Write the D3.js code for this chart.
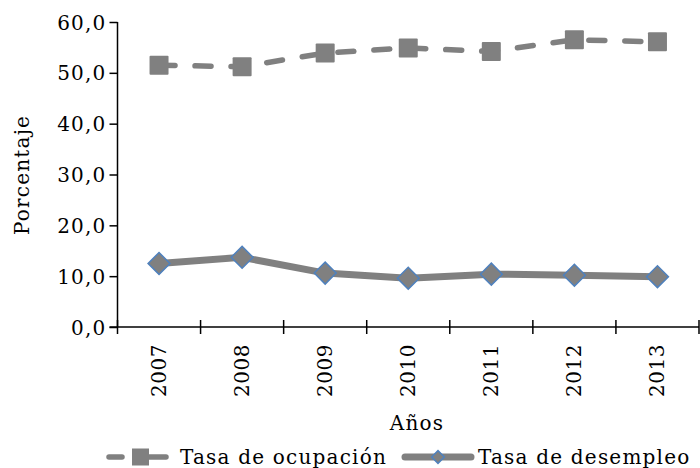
<!DOCTYPE html>
<html>
<head>
<meta charset="utf-8">
<script src="https://cdn.jsdelivr.net/npm/d3@7"></script>
<style>
  body { margin: 0; background: #fff; }
  text { font-family: "DejaVu Serif", serif; fill: #000; font-size: 20px; letter-spacing: 1.2px; }
</style>
</head>
<body>
<svg id="chart" width="700" height="468"></svg>
<script>
var years = ["2007", "2008", "2009", "2010", "2011", "2012", "2013"];
var ocupacion = [51.5, 51.2, 53.9, 54.9, 54.2, 56.5, 56.1];
var desempleo = [12.5, 13.7, 10.6, 9.6, 10.4, 10.2, 9.9];
var yTicks = [0, 10, 20, 30, 40, 50, 60];

var svg = d3.select('#chart');
var plotLeft = 117.5, plotRight = 699, plotTop = 22, plotBottom = 327;

var x = d3.scaleBand().domain(years).range([plotLeft, plotRight]);
var y = d3.scaleLinear().domain([0, 60]).range([plotBottom, plotTop]);
var fmt = function(d){ return d3.format('.1f')(d).replace('.', ','); };

// y axis
var yAxis = svg.append('g').attr('transform', 'translate(' + plotLeft + ',0)')
  .call(d3.axisLeft(y).tickValues(yTicks).tickSize(8).tickFormat(fmt));
yAxis.select('.domain').attr('d', 'M0,' + plotTop + 'V' + plotBottom).attr('stroke-width', 1.5);
yAxis.selectAll('.tick line').attr('x1', -8).attr('x2', 0).attr('stroke-width', 1.5);
yAxis.selectAll('.tick text').attr('x', -11).attr('dy', '0.35em');
yAxis.attr('font-size', null).attr('font-family', null);

// x axis with ticks between categories
var xg = svg.append('g');
xg.append('line').attr('x1', plotLeft - 8).attr('x2', plotRight).attr('y1', plotBottom).attr('y2', plotBottom)
  .attr('stroke', '#000').attr('stroke-width', 1.5);
var edges = years.map(function(d){ return x(d); }).concat([plotRight]);
xg.selectAll('.xt').data(edges).enter().append('line')
  .attr('x1', function(d){ return d; }).attr('x2', function(d){ return d; })
  .attr('y1', plotBottom - 7).attr('y2', plotBottom + 7)
  .attr('stroke', '#000').attr('stroke-width', 1.5);
xg.selectAll('.xl').data(years).enter().append('text')
  .attr('transform', function(d){ return 'translate(' + (x(d) + x.bandwidth() / 2 + 7) + ',344)rotate(-90)'; })
  .attr('text-anchor', 'end')
  .style('letter-spacing', '0.5px')
  .text(function(d){ return d; });

// axis titles
svg.append('text').attr('x', 417).attr('y', 430).attr('text-anchor', 'middle').text('Años');
svg.append('text').attr('transform', 'translate(29,175)rotate(-90)').attr('text-anchor', 'middle')
  .text('Porcentaje');

var cx = function(d, i){ return x(years[i]) + x.bandwidth() / 2; };
var line = d3.line().x(cx).y(function(d){ return y(d); });

// Tasa de ocupación
svg.append('path').datum(ocupacion).attr('d', line)
  .attr('fill', 'none').attr('stroke', '#808080').attr('stroke-width', 5.5)
  .attr('stroke-linecap', 'round').attr('stroke-dasharray', '16,20');
svg.selectAll('.sq').data(ocupacion).enter().append('rect')
  .attr('x', function(d, i){ return cx(d, i) - 9.5; })
  .attr('y', function(d){ return y(d) - 9.5; })
  .attr('width', 19).attr('height', 19).attr('rx', 1)
  .attr('fill', '#808080');

// Tasa de desempleo
svg.append('path').datum(desempleo).attr('d', line)
  .attr('fill', 'none').attr('stroke', '#808080').attr('stroke-width', 7)
  .attr('stroke-linejoin', 'round');
var diamond = d3.symbol().type(d3.symbolSquare).size(240);
svg.selectAll('.dm').data(desempleo).enter().append('path')
  .attr('d', diamond)
  .attr('transform', function(d, i){ return 'translate(' + cx(d, i) + ',' + y(d) + ')rotate(45)'; })
  .attr('fill', '#808080').attr('stroke', '#4f81bd').attr('stroke-width', 1.5);

// legend
var lg = svg.append('g');
lg.append('line').attr('x1', 109).attr('x2', 122).attr('y1', 457).attr('y2', 457)
  .attr('stroke', '#808080').attr('stroke-width', 5.5).attr('stroke-linecap', 'round');
lg.append('line').attr('x1', 145).attr('x2', 166).attr('y1', 457).attr('y2', 457)
  .attr('stroke', '#808080').attr('stroke-width', 5.5).attr('stroke-linecap', 'round');
lg.append('rect').attr('x', 132).attr('y', 448.5).attr('width', 17).attr('height', 17).attr('fill', '#808080');
lg.append('text').attr('x', 180).attr('y', 464).text('Tasa de ocupación');

lg.append('line').attr('x1', 405).attr('x2', 471).attr('y1', 457).attr('y2', 457)
  .attr('stroke', '#808080').attr('stroke-width', 7).attr('stroke-linecap', 'round');
lg.append('path').attr('d', d3.symbol().type(d3.symbolSquare).size(80))
  .attr('transform', 'translate(438,457)rotate(45)')
  .attr('fill', '#808080').attr('stroke', '#4f81bd').attr('stroke-width', 1.5);
lg.append('text').attr('x', 478).attr('y', 464).text('Tasa de desempleo');
</script>
</body>
</html>
